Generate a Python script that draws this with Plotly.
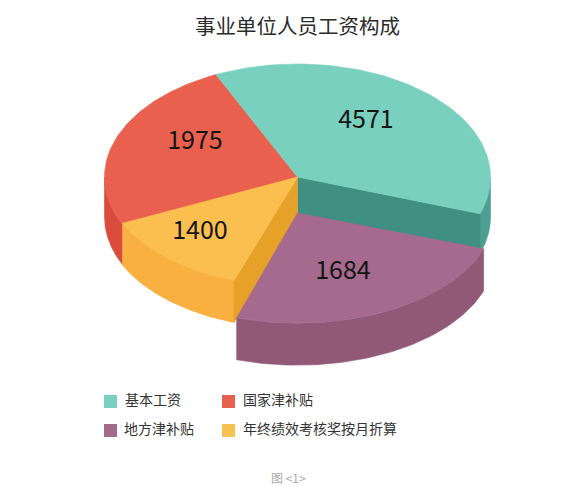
import numpy as np
import plotly.graph_objects as go

# chart data, clockwise from the teal slice
categories = ["基本工资", "地方津补贴", "年终绩效考核奖按月折算", "国家津补贴"]
values = [4571, 1684, 1400, 1975]
# the slices in the picture are not to scale, so sweep is read off it separately
sweep_deg = [134, 89, 47, 90]
start_deg = -25

top_colors = ["#79D0BF", "#A56A8E", "#FBBF50", "#E9604F"]
wall_colors = ["#4E9F93", "#915878", "#F9B041", "#D94B3A"]
face_colors = ["#3F8F83", None, "#E6A228", None]
legend_colors = ["#79D0BF", "#A5698C", "#F8C250", "#E8604F"]

W, H = 579, 487
CX, CY = 297.5, 177
RX, RY = 193, 113
depth = [40 / RY, 42 / RY, 42 / RY, 40 / RY]
explode_y = [0, -36 / RY, 0, 0]
scale_x = [1, 1.02, 1, 1]
scale_y = [1, 0.975, 0.97, 1]
trim_start = [0, 0, 1.2, 0]
draw_order = [3, 0, 2, 1]


def px_x(p):
  return (p - CX) / RX


def px_y(p):
  return (CY - p) / RY


def arc(a0, a1, i):
  t = np.radians(np.linspace(a0, a1, 80))
  return np.sin(t) * scale_x[i], np.cos(t) * scale_y[i] + explode_y[i]


def poly(x, y, color, line=None):
  return go.Scatter(x=np.r_[x, x[0]], y=np.r_[y, y[0]], mode="lines", fill="toself",
                    fillcolor=color, line=dict(color=line or color, width=0.6),
                    hoverinfo="skip", showlegend=False)


fig = go.Figure()
edges = start_deg + np.r_[0, np.cumsum(sweep_deg)]

for i in draw_order:
  a0, a1 = edges[i] + trim_start[i], edges[i + 1]
  off, d = explode_y[i], depth[i]
  # outer wall, front half of the rim only
  x, y = arc(max(a0, 90), min(a1, 270), i)
  fig.add_trace(poly(np.r_[x, x[::-1]], np.r_[y, y[::-1] - d], wall_colors[i]))
  # cut face, only on slices where it looks at the viewer
  if face_colors[i]:
    a = a1 if i == 0 else a0
    ex, ey = arc(a, a, i)
    ex, ey = ex[0], ey[0]
    fig.add_trace(poly(np.array([0, ex, ex, 0]),
                       np.array([off, ey, ey - d, off - d]), face_colors[i]))
  # top
  x, y = arc(a0, a1, i)
  fig.add_trace(poly(np.r_[0, x], np.r_[off, y], top_colors[i]))

# value labels
label_x = [366, 343, 200, 195]
label_y = [122, 273, 233, 143]
fig.add_trace(go.Scatter(x=px_x(np.array(label_x)), y=px_y(np.array(label_y)), mode="text",
                         text=[str(v) for v in values],
                         textfont=dict(size=25, color="#151515"),
                         hoverinfo="skip", showlegend=False))

# legend in two columns
swatch_x = [110.5, 110.5, 228.5, 228.5]
swatch_y = [401.5, 430.5, 430.5, 401.5]
text_x = [125, 124, 243, 243]
fig.add_trace(go.Scatter(x=px_x(np.array(swatch_x)), y=px_y(np.array(swatch_y)), mode="markers",
                         marker=dict(symbol="square", size=13, color=legend_colors, line=dict(width=0)),
                         hoverinfo="skip", showlegend=False))
fig.add_trace(go.Scatter(x=px_x(np.array(text_x)), y=px_y(np.array(swatch_y)), mode="text",
                         text=categories, textposition="middle right",
                         textfont=dict(size=14, color="#333333"),
                         hoverinfo="skip", showlegend=False))

fig.add_annotation(x=0.513, y=1 - 24.5 / H, xref="paper", yref="paper", yanchor="middle",
                   text="事业单位人员工资构成", showarrow=False,
                   font=dict(size=20.5, color="#2b2b2b"))
fig.add_annotation(x=288 / W, y=1 - 477 / H, xref="paper", yref="paper", yanchor="middle",
                   text="图 &lt;1&gt;", showarrow=False, borderpad=0,
                   font=dict(size=12, color="#aaaaaa"))

fig.update_layout(width=W, height=H, margin=dict(l=0, r=0, t=0, b=0),
                  paper_bgcolor="white", plot_bgcolor="white",
                  font=dict(family="Noto Sans CJK SC"),
                  xaxis=dict(range=[px_x(0), px_x(W)], visible=False, fixedrange=True),
                  yaxis=dict(range=[px_y(H), px_y(0)], visible=False, fixedrange=True))

fig.write_html("out.html", post_script="document.body.style.margin='0';",
               config=dict(displayModeBar=False))
